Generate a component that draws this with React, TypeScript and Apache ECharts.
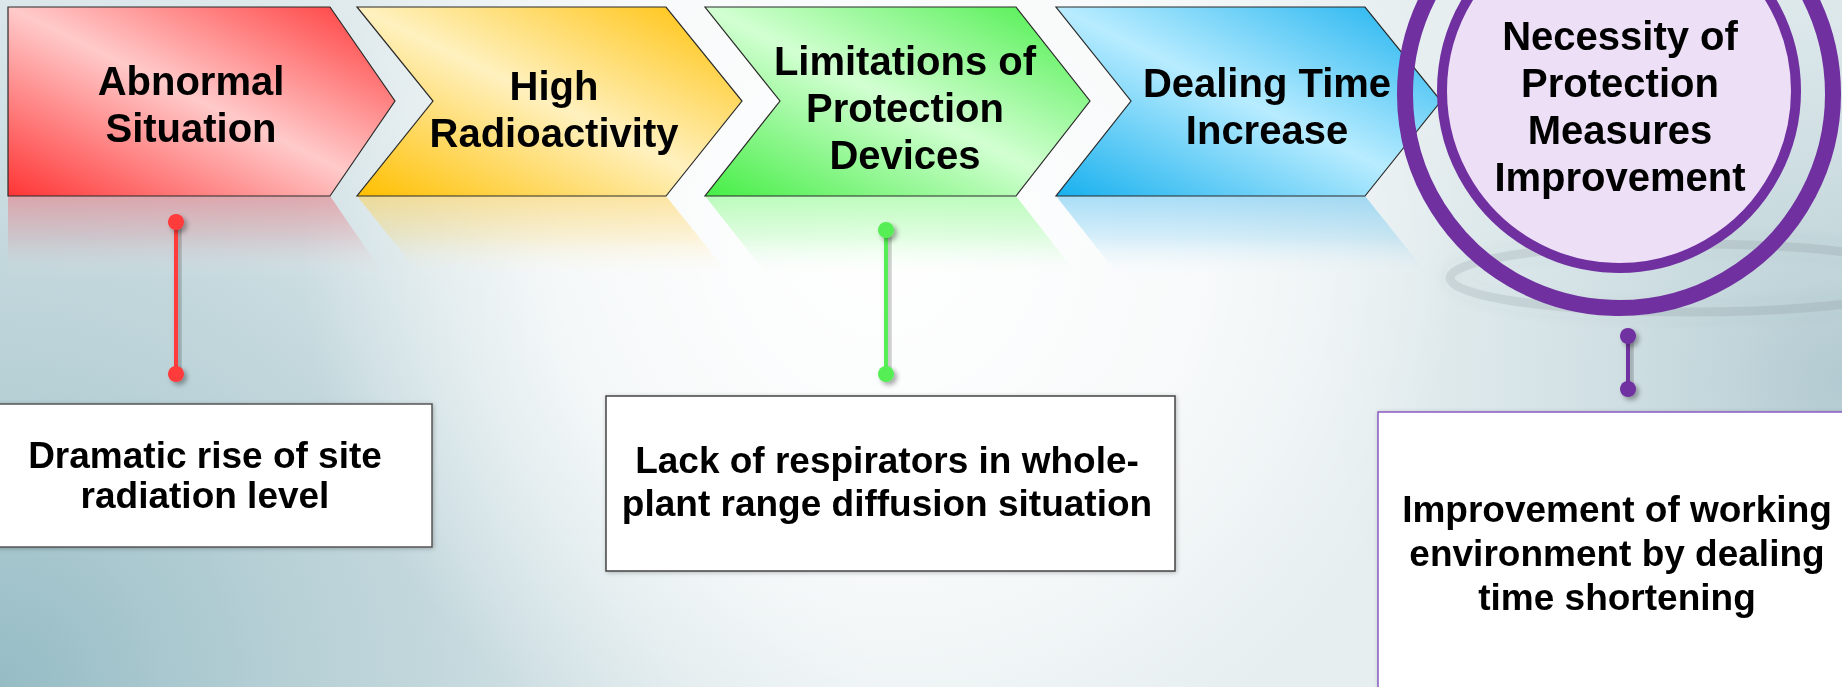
import React, { useEffect, useRef } from "react";
import * as echarts from "echarts";

// ---- content ----
const stepLabels = [
  "Abnormal\nSituation",
  "High\nRadioactivity",
  "Limitations of\nProtection\nDevices",
  "Dealing Time\nIncrease",
];
const goalLabel = "Necessity of\nProtection\nMeasures\nImprovement";
const noteLabels = [
  "Dramatic rise of site\nradiation level",
  "Lack of respirators in whole-\nplant range diffusion situation",
  "Improvement of working\nenvironment by dealing\ntime shortening",
];

// ---- layout / style (kept apart from the content) ----
const W = 1842;
const H = 687;
const FONT = "'Liberation Sans', Arial, Helvetica, sans-serif";
const TOP = 7;
const BOT = 196;
const MID = 101;
// [left, notch, corner, tip]
const chevronX = [
  [8, 8, 330, 395],
  [357, 433, 666, 742],
  [705, 780, 1016, 1090],
  [1056, 1131, 1365, 1441],
];
const chevronDark = ["#ff3535", "#ffbf00", "#45ee45", "#17b0ee"];
const chevronLight = ["#ffcaca", "#fff1bf", "#d2ffd2", "#b8ecff"];
const reflectColor = [
  "rgba(232,120,128,0.55)",
  "rgba(255,205,70,0.5)",
  "rgba(110,250,110,0.45)",
  "rgba(70,185,240,0.45)",
];
const stepTextPos = [
  [191, 104],
  [554, 109],
  [905, 108],
  [1267, 106],
];
const ringCx = 1619;
const notePos = [
  { box: [-22, 404, 454, 143], text: [205, 475], lh: 40, stroke: "#555555" },
  { box: [606, 396, 569, 175], text: [887, 482], lh: 43, stroke: "#444444" },
  { box: [1378, 412, 480, 300], text: [1617, 553], lh: 44, stroke: "#8a5cc4" },
];
const connectors = [
  { x: 176, y1: 222, y2: 374, color: "#ff3b3b" },
  { x: 886, y1: 230, y2: 374, color: "#55ee55" },
  { x: 1628, y1: 336, y2: 389, color: "#7030a0" },
];

function chevronPoints(i: number) {
  const [l, n, c, t] = chevronX[i];
  const pts: number[][] = [
    [l, TOP],
    [c, TOP],
    [t, MID],
    [c, BOT],
    [l, BOT],
  ];
  if (n !== l) pts.push([n, MID]);
  return pts;
}

function reflectionPoints(i: number) {
  const [l, n, c, t] = chevronX[i];
  const m = 2 * BOT - MID;
  return [
    [l, BOT],
    [c, BOT],
    [t, m],
    [n, m],
  ];
}

function textEl(text: string, x: number, y: number, size: number, lh: number, z = 20) {
  return {
    type: "text",
    z,
    style: {
      text,
      x,
      y,
      fill: "#000000",
      fontSize: size,
      fontWeight: "bold",
      fontFamily: FONT,
      lineHeight: lh,
      align: "center",
      verticalAlign: "middle",
      textAlign: "center",
      textVerticalAlign: "middle",
    },
  };
}

function buildGraphic() {
  const els: any[] = [];
  // background
  els.push({
    type: "rect",
    z: 0,
    shape: { x: 0, y: 0, width: W, height: H },
    style: { fill: "#e6eef0" },
  });
  els.push({
    type: "rect",
    z: 0,
    shape: { x: 0, y: 0, width: W, height: H },
    style: {
      fill: {
        type: "radial",
        x: 0,
        y: H,
        r: 880,
        global: true,
        colorStops: [
          { offset: 0, color: "rgba(145,185,194,0.95)" },
          { offset: 0.5, color: "rgba(172,201,208,0.6)" },
          { offset: 1, color: "rgba(200,220,224,0)" },
        ],
      },
    },
  });
  els.push({
    type: "rect",
    z: 0,
    shape: { x: 0, y: 0, width: W, height: H },
    style: {
      fill: {
        type: "radial",
        x: W,
        y: 380,
        r: 520,
        global: true,
        colorStops: [
          { offset: 0, color: "rgba(172,198,205,0.9)" },
          { offset: 1, color: "rgba(200,220,224,0)" },
        ],
      },
    },
  });
  els.push({
    type: "rect",
    z: 0,
    shape: { x: 0, y: 0, width: W, height: H },
    style: {
      fill: {
        type: "radial",
        x: 880,
        y: 240,
        r: 580,
        global: true,
        colorStops: [
          { offset: 0, color: "rgba(255,255,255,1)" },
          { offset: 0.55, color: "rgba(255,255,255,0.72)" },
          { offset: 1, color: "rgba(255,255,255,0)" },
        ],
      },
    },
  });

  // reflections
  stepLabels.forEach((_, i) => {
    els.push({
      type: "polygon",
      z: 2,
      shape: { points: reflectionPoints(i) },
      style: {
        fill: {
          type: "linear",
          x: 0,
          y: BOT,
          x2: 0,
          y2: 280,
          global: true,
          colorStops: [
            { offset: 0, color: reflectColor[i] },
            { offset: 0.5, color: reflectColor[i].replace(/[\d.]+\)$/, "0.2)") },
            { offset: 1, color: "rgba(255,255,255,0)" },
          ],
        },
      },
    });
  });

  // chevrons
  stepLabels.forEach((label, i) => {
    els.push({
      type: "polygon",
      z: 5,
      shape: { points: chevronPoints(i) },
      style: {
        fill: {
          type: "linear",
          x: 0,
          y: 1,
          x2: 1,
          y2: 0,
          colorStops: [
            { offset: 0, color: chevronDark[i] },
            { offset: 0.5, color: chevronLight[i] },
            { offset: 1, color: chevronDark[i] },
          ],
        },
        stroke: "#2a2a2a",
        lineWidth: 1.2,
      },
    });
    els.push(textEl(label, stepTextPos[i][0], stepTextPos[i][1], 40, 47));
  });

  // shadow swoosh beneath the ring
  els.push({
    type: "ellipse",
    z: 6,
    shape: { cx: 1690, cy: 278, rx: 240, ry: 34 },
    style: {
      fill: "none",
      stroke: "rgba(110,125,130,0.16)",
      lineWidth: 9,
      shadowBlur: 16,
      shadowColor: "rgba(90,100,105,0.4)",
    },
  });

  // goal rings
  els.push({
    type: "circle",
    z: 8,
    shape: { cx: ringCx, cy: 94, r: 214 },
    style: {
      fill: "none",
      stroke: "#7030a0",
      lineWidth: 16,
    },
  });
  els.push({
    type: "circle",
    z: 9,
    shape: { cx: ringCx, cy: 91, r: 177 },
    style: {
      fill: "#ecdff6",
      stroke: "#7030a0",
      lineWidth: 10,
    },
  });
  els.push(textEl(goalLabel, 1620, 106, 40, 47, 21));

  // connectors
  connectors.forEach((c) => {
    const sh = {
      shadowBlur: 5,
      shadowColor: "rgba(0,0,0,0.35)",
      shadowOffsetX: 3,
      shadowOffsetY: 3,
    };
    els.push({
      type: "rect",
      z: 12,
      shape: { x: c.x - 2, y: c.y1, width: 4, height: c.y2 - c.y1 },
      style: { fill: c.color, ...sh },
    });
    els.push({
      type: "circle",
      z: 13,
      shape: { cx: c.x, cy: c.y1, r: 8 },
      style: { fill: c.color, ...sh },
    });
    els.push({
      type: "circle",
      z: 13,
      shape: { cx: c.x, cy: c.y2, r: 8 },
      style: { fill: c.color, ...sh },
    });
  });

  // note boxes
  noteLabels.forEach((label, i) => {
    const p = notePos[i];
    els.push({
      type: "rect",
      z: 14,
      shape: { x: p.box[0], y: p.box[1], width: p.box[2], height: p.box[3] },
      style: {
        fill: "#ffffff",
        stroke: p.stroke,
        lineWidth: 1.5,
        shadowBlur: 4,
        shadowColor: "rgba(0,0,0,0.25)",
        shadowOffsetX: 1,
        shadowOffsetY: 1,
      },
    });
    els.push(textEl(label, p.text[0], p.text[1], 37, p.lh, 22));
  });

  return els;
}

export default function App() {
  const ref = useRef<HTMLDivElement>(null);
  useEffect(() => {
    if (!ref.current) return;
    const chart = echarts.init(ref.current, null, { renderer: "svg" });
    chart.setOption({
      animation: false,
      graphic: { elements: buildGraphic() },
    });
    return () => chart.dispose();
  }, []);
  return (
    <div
      ref={ref}
      style={{ position: "fixed", left: 0, top: 0, width: W, height: H }}
    />
  );
}
